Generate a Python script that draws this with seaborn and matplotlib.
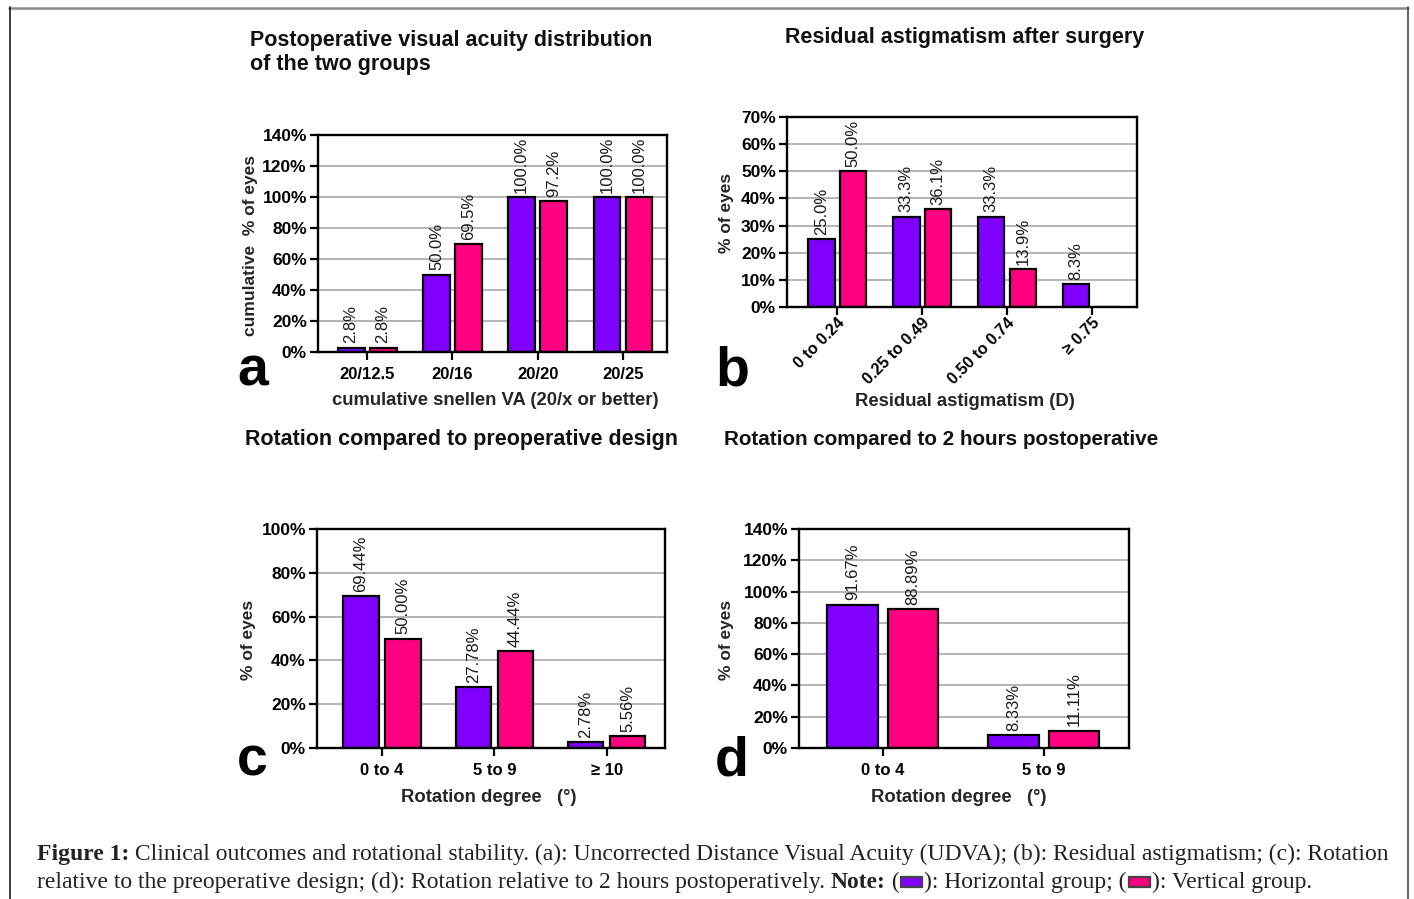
import numpy as np
import pandas as pd
import seaborn as sns
import matplotlib.pyplot as plt
from matplotlib.lines import Line2D
from matplotlib.patches import Rectangle
from matplotlib.font_manager import FontProperties

W, H = 1414, 899

# groups and colours
groups = ['Horizontal', 'Vertical']
colors = ['#7f00ff', '#ff0080']

# (a) cumulative snellen VA
va_cats = ['20/12.5', '20/16', '20/20', '20/25']
va_horizontal = [2.8, 50.0, 100.0, 100.0]
va_vertical = [2.8, 69.5, 97.2, 100.0]

# (b) residual astigmatism
astig_cats = ['0 to 0.24', '0.25 to 0.49', '0.50 to 0.74', '≥ 0.75']
astig_horizontal = [25.0, 33.3, 33.3, 8.3]
astig_vertical = [50.0, 36.1, 13.9, 0.0]

# (c) rotation vs preoperative design
rot_pre_cats = ['0 to 4', '5 to 9', '≥ 10']
rot_pre_horizontal = [69.44, 27.78, 2.78]
rot_pre_vertical = [50.00, 44.44, 5.56]

# (d) rotation vs 2 hours postoperative
rot_2h_cats = ['0 to 4', '5 to 9']
rot_2h_horizontal = [91.67, 8.33]
rot_2h_vertical = [88.89, 11.11]

sns.set_theme(style='ticks')
plt.rcParams['font.family'] = ['Liberation Sans', 'DejaVu Sans']

fig = plt.figure(figsize=(W / 100, H / 100), dpi=100)


def long_df(cats, h, v):
    return pd.DataFrame({
        'cat': list(cats) * 2,
        'pct': list(h) + list(v),
        'group': ['Horizontal'] * len(cats) + ['Vertical'] * len(cats),
    })


def panel(box, cats, h, v, ymax, step, dec, xlim, xlabel, xlab_px, ylabel, ylab_px, rot=0):
    l, t, r, b = box
    ax = fig.add_axes([l / W, 1 - b / H, (r - l) / W, (b - t) / H])
    df = long_df(cats, h, v)
    sns.barplot(data=df, x='cat', y='pct', hue='group', order=cats, hue_order=groups,
                palette=colors, saturation=1, width=0.75, gap=0.16, errorbar=None,
                edgecolor='black', linewidth=1.6, legend=False, ax=ax)
    for cont, vals in zip(ax.containers, [h, v]):
        labels = [f'{x:.{dec}f}%' if x > 0 else '' for x in vals]
        ax.bar_label(cont, labels=labels, rotation=90, padding=3, fontsize=12, color='#1a1a1a')
    ticks = np.arange(0, ymax + 1, step)
    ax.set_ylim(0, ymax)
    ax.set_yticks(ticks)
    ax.set_yticklabels([f'{k}%' for k in ticks])
    ax.set_xlim(*xlim)
    ax.yaxis.grid(True, color='#a8a8a8', lw=1.2)
    ax.set_axisbelow(True)
    for s in ax.spines.values():
        s.set_visible(True)
        s.set_linewidth(1.7)
        s.set_color('black')
    ax.tick_params(direction='out', length=6, width=1.6, colors='black', labelsize=12, pad=2)
    ax.tick_params(axis='y', labelsize=12.5)
    ax.tick_params(axis='x', pad=5)
    for lab in ax.get_xticklabels() + ax.get_yticklabels():
        lab.set_fontweight('bold')
    if rot:
        ax.tick_params(axis='x', pad=0, labelsize=11.5)
        for lab in ax.get_xticklabels():
            lab.set_rotation(rot)
            lab.set_ha('right')
            lab.set_rotation_mode('anchor')
    ax.set_xlabel(xlabel, fontsize=13.3, fontweight='bold', va='center')
    ax.set_ylabel(ylabel, fontsize=12.5, fontweight='bold', va='center')
    ax.xaxis.set_label_coords((xlab_px[0] - l) / (r - l), (b - xlab_px[1]) / (b - t))
    ax.yaxis.set_label_coords((ylab_px[0] - l) / (r - l), (b - ylab_px[1]) / (b - t))
    return ax


panel((318, 135, 667, 352), va_cats, va_horizontal, va_vertical, 140, 20, 1, (-0.575, 3.515),
      'cumulative snellen VA (20/x or better)', (495, 400), 'cumulative  % of eyes', (251, 245))
panel((787, 117, 1137, 307), astig_cats, astig_horizontal, astig_vertical, 70, 10, 1, (-0.59, 3.53),
      'Residual astigmatism (D)', (965, 402), '% of eyes', (727, 213), rot=45)
panel((317, 529, 665, 748), rot_pre_cats, rot_pre_horizontal, rot_pre_vertical, 100, 20, 2, (-0.58, 2.52),
      'Rotation degree   (°)', (489, 797), '% of eyes', (248, 640))
panel((799, 529, 1129, 748), rot_2h_cats, rot_2h_horizontal, rot_2h_vertical, 140, 20, 2, (-0.52, 1.53),
      'Rotation degree   (°)', (959, 797), '% of eyes', (727, 640))


def ftext(x, y, s, **kw):
    return fig.text(x / W, 1 - y / H, s, **kw)


title_kw = dict(fontweight='bold', va='baseline', color='#111')
ftext(250, 46, 'Postoperative visual acuity distribution', ha='left', fontsize=15.5, **title_kw)
ftext(250, 70, 'of the two groups', ha='left', fontsize=15.5, **title_kw)
ftext(965, 43, 'Residual astigmatism after surgery', ha='center', fontsize=15.5, **title_kw)
ftext(245, 445, 'Rotation compared to preoperative design', ha='left', fontsize=15.5, **title_kw)
ftext(724, 445, 'Rotation compared to 2 hours postoperative', ha='left', fontsize=14.9, **title_kw)

letter_kw = dict(fontsize=40, fontweight='bold', va='baseline', ha='left', color='black')
ftext(237, 385, 'a', **letter_kw)
ftext(715, 385, 'b', **letter_kw)
ftext(237, 775, 'c', **letter_kw)
ftext(715, 775, 'd', **letter_kw)

# frame around the figure
fig.add_artist(Line2D([9 / W, 1408 / W], [1 - 7.5 / H, 1 - 7.5 / H], transform=fig.transFigure,
                      color='#8c8c8c', lw=1.8))
fig.add_artist(Line2D([9.5 / W, 9.5 / W], [0, 1 - 7 / H], transform=fig.transFigure,
                      color='#1e1e1e', lw=1.2))
fig.add_artist(Line2D([1408 / W, 1408 / W], [0, 1 - 7 / H], transform=fig.transFigure,
                      color='#4a4a4a', lw=1.2))

# caption
renderer = fig.canvas.get_renderer()


def text_w(s, fs, weight='normal'):
    prop = FontProperties(family='Liberation Serif', size=fs, weight=weight)
    w1 = renderer.get_text_width_height_descent('|' + s + '|', prop, ismath=False)[0]
    w0 = renderer.get_text_width_height_descent('||', prop, ismath=False)[0]
    return w1 - w0


line1 = [('Figure 1:', 'bold'),
         (' Clinical outcomes and rotational stability. (a): Uncorrected Distance Visual Acuity (UDVA);'
          ' (b): Residual astigmatism; (c): Rotation', 'normal')]
line2 = [('relative to the preoperative design; (d): Rotation relative to 2 hours postoperatively. ', 'normal'),
         ('Note:', 'bold'), (' (', 'normal'), ('BOX', colors[0]), ('): Horizontal group; (', 'normal'),
         ('BOX', colors[1]), ('): Vertical group.', 'normal')]

w10 = sum(text_w(s, 10, wt) for s, wt in line1)
cap_fs = 10 * (1388 - 37) / w10


def put_line(pieces, y):
    x = 37
    for s, wt in pieces:
        if s == 'BOX':
            fig.add_artist(Rectangle(((x + 2) / W, 1 - (y - 1) / H), 21 / W, 10 / H,
                                     transform=fig.transFigure, facecolor=wt,
                                     edgecolor='#444', lw=1.6))
            x += 25
            continue
        ftext(x, y, s, fontsize=cap_fs, fontweight=wt, family='Liberation Serif',
              va='baseline', ha='left', color='#222')
        x += text_w(s, cap_fs, wt)


put_line(line1, 860)
put_line(line2, 888)

fig.savefig('out.png', dpi=100)
